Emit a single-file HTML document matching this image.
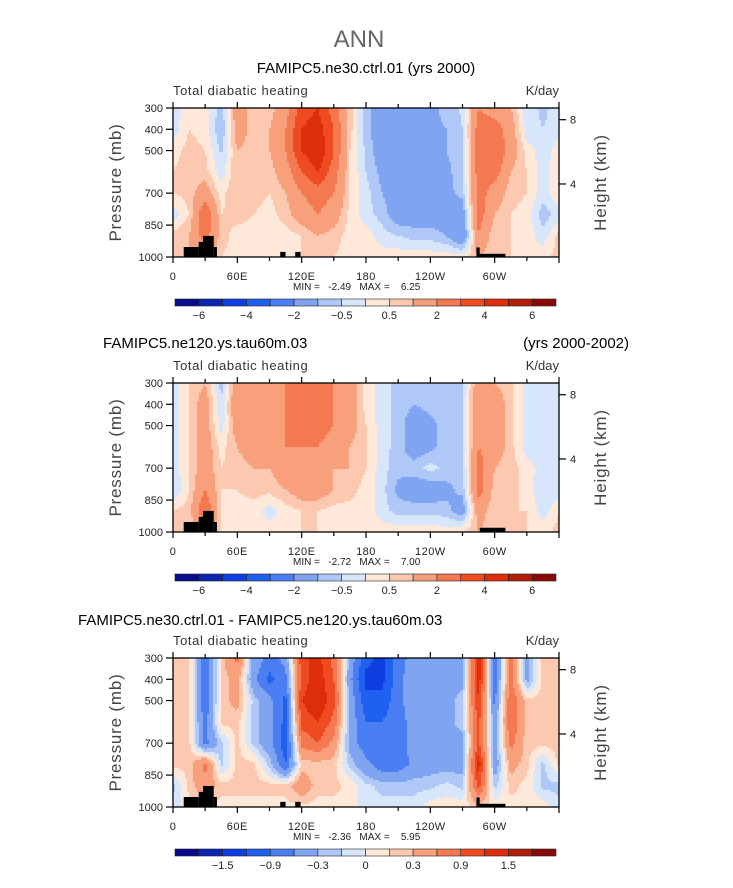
<!DOCTYPE html>
<html><head><meta charset="utf-8">
<style>
html,body{margin:0;padding:0;background:#fff;}
svg{display:block;font-family:"Liberation Sans",sans-serif;}
</style></head>
<body>
<svg id="fig" width="733" height="888" viewBox="0 0 733 888" xmlns="http://www.w3.org/2000/svg">
<text x="359" y="47" font-size="24" fill="#666" text-anchor="middle">ANN</text>
</svg>
<script>
// ---------------- data ----------------
const levels = [300,400,500,600,700,800,900,1000];
const lons = [0,15,30,45,60,75,90,105,120,135,150,165,180,195,210,225,240,255,270,285,300,315,330,345,360];
const lonTickLabels = ["0","60E","120E","180","120W","60W"];
const lonTickValues = [0,60,120,180,240,300];
const presTicks = [300,400,500,700,850,1000];
const heightTicks = ["8","4"];
const heightTickPres = [355,657];
const boundsAbs = [-6,-5,-4,-3,-2,-1,-0.5,0,0.5,1,2,3,4,5,6];
const boundsDiff = [-1.8,-1.5,-1.2,-0.9,-0.6,-0.3,-0.15,0,0.15,0.3,0.6,0.9,1.2,1.5,1.8];
const labelsAbs = ["-6","-4","-2","-0.5","0.5","2","4","6"];
const labelsDiff = ["-1.5","-0.9","-0.3","0","0.3","0.9","1.5"];
const colors = ["#0a0a8c","#0a26b0","#0f3ee0","#2060f0","#4a7ef2","#7fa4f2","#b0c8f8","#d8e6fc","#fde8da","#fcc8b0","#f8a07c","#f47850","#f04a20","#dc2e08","#b01c0a","#8a0a0a"];

const field1 = [
[-0.3,0.3,0.3,-0.8,1.5,0.7,0.7,1.5,3.5,4,2.5,0.7,-0.8,-1.5,-1.5,-1.5,-1.2,-0.8,-0.4,2,1.5,1,-0.3,-0.6,-0.3],
[-0.3,0.5,0.3,-1,1.5,0.7,1,2,4,4.5,3,0.7,-0.8,-1.5,-1.5,-1.5,-1.2,-1,-0.5,2.5,2.5,1.5,-0.3,-0.5,-0.3],
[0.3,0.7,0.5,-0.6,1,0.7,1,2,4,5,3,0.5,-0.6,-1.5,-1.5,-1.5,-1.5,-1,-0.6,2.5,3,1.5,0.3,-0.3,0.3],
[0.5,0.7,0.7,-0.3,1,1,0.7,1.5,3,4,2.5,0.5,-0.5,-1.2,-1.5,-1.5,-1.5,-1.2,-0.6,2.5,2.5,1,0.5,-0.3,0.5],
[0.5,0.7,1.5,0.3,1,0.7,0.5,1,2,2.5,2,0.5,-0.3,-1,-1.5,-1.5,-1.5,-1.2,-0.8,2.5,1.5,0.7,0.5,-0.3,0.5],
[-0.3,0.5,3,0.5,0.7,0.5,0.3,0.7,1.5,2,1.5,0.3,-0.3,-0.7,-1.5,-1.5,-1.5,-1.5,-1.5,2.5,1,0.5,0.3,-0.8,-0.3],
[0.7,1,2.5,0.7,0.3,0.3,0.3,0.3,0.5,1,0.7,0.3,0.3,-0.3,-0.5,-0.7,-0.7,-1,-2,2,0.5,0.5,0.3,-0.3,0.7],
[0.7,1,1,0.5,0.3,0.3,0.3,0.3,0.5,0.5,0.5,0.3,0.3,0.3,0.3,0.3,0.3,0.3,0.3,1,0.5,0.5,0.3,0.3,0.7]
];
const field2 = [
[-0.3,0.5,1,-0.7,1.5,1.5,1.5,2,2.5,2.5,2,1.5,0.3,-0.3,-0.7,-0.7,-0.7,-0.5,-0.5,1.5,1,0.7,-0.3,-0.3,-0.3],
[-0.3,0.5,1.5,-0.5,2,1.5,1.5,2,2.5,3,2,1.5,0.3,-0.3,-0.7,-1,-0.8,-0.7,-0.5,2,1.5,0.7,-0.3,-0.3,-0.3],
[-0.3,0.5,1.5,-0.3,1.5,1.5,1.5,2,2.5,2.5,2,1.5,0.5,-0.3,-0.7,-1.5,-1.2,-0.7,-0.5,2,1.5,0.7,-0.3,-0.3,-0.3],
[-0.3,0.5,1.5,0.3,1,1.5,1.5,2,2,2,1.5,1,0.5,-0.3,-0.7,-1.5,-1.2,-0.7,-0.5,2,1.5,0.7,-0.3,-0.3,-0.3],
[-0.3,0.5,1.5,0.5,0.7,1,1,1.5,1.5,1.5,1,1,0.5,-0.3,-0.8,-0.7,-0.3,-0.7,-0.7,2.5,1,0.7,0.3,-0.3,-0.3],
[-0.5,0.5,2,0.5,0.5,0.7,0.7,1,1.5,1.5,1,0.7,0.3,-0.3,-1.2,-1.5,-1.5,-1.2,-0.8,2.5,0.7,0.7,0.3,-0.5,-0.5],
[0.5,0.7,3,0.5,0.3,0.3,-0.3,0.3,0.5,0.5,0.3,0.3,0.3,-0.3,-0.7,-0.7,-0.7,-0.8,-1.5,1.5,0.5,0.5,0.5,-0.3,0.5],
[0.7,0.7,1,0.5,0.3,0.3,0.3,0.3,0.5,0.5,0.3,0.3,0.3,0.3,0.3,0.3,0.3,0.3,0.5,1,0.5,0.5,0.5,0.3,0.7]
];
const field3 = [
[0.2,0.2,-0.9,0.2,0.7,-0.4,-0.7,-0.5,1.1,1.3,0.8,-0.4,-1.1,-1.3,-0.7,-0.5,-0.4,-0.4,-0.4,1.4,-0.8,0.7,-0.4,0.2,0.2],
[0.2,0.2,-0.9,0.2,0.4,-0.5,-1.0,-0.7,1.0,1.4,0.9,-0.5,-1.3,-1.3,-0.7,-0.4,-0.4,-0.4,-0.4,1.4,-0.8,0.7,-0.4,0.2,0.2],
[0.2,0.2,-0.9,0.2,0.4,-0.2,-0.5,-1.0,1.2,1.5,1.0,-0.4,-1.1,-1.1,-0.7,-0.4,-0.4,-0.4,-0.2,1.2,-0.7,0.9,0.2,0.2,0.2],
[0.2,0.2,-0.7,0.2,0.2,-0.2,-0.5,-1.0,1.0,1.2,0.8,-0.4,-0.9,-0.9,-0.7,-0.5,-0.4,-0.4,-0.2,1.0,-0.5,0.9,0.2,0.2,0.2],
[0.2,0.2,-0.7,-0.2,0.2,-0.2,-0.5,-1.1,0.7,0.9,0.5,-0.4,-0.8,-0.8,-0.7,-0.5,-0.4,-0.4,-0.4,1.0,-0.5,0.7,0.2,0.2,0.2],
[0.2,0.2,0.7,-0.2,0.2,0.2,-0.2,-0.9,0.2,0.2,0.2,-0.2,-0.5,-0.8,-0.8,-0.5,-0.4,-0.4,-0.4,1.4,-0.5,0.4,0.2,-0.2,0.2],
[-0.2,0.2,0.5,0.2,0.2,0.2,0.2,0.2,0.5,0.2,0.2,0.1,-0.1,-0.2,-0.2,-0.2,-0.2,-0.1,-0.2,1.0,-0.2,0.2,0.1,-0.2,-0.2],
[-0.1,0.1,0.1,0.1,0.1,0.1,0.1,0.1,0.1,0.1,0.1,0.1,-0.1,-0.1,-0.1,-0.1,0.1,0.1,0.1,0.2,0.1,0.1,0.1,0.1,-0.1]
];
// topography blocks: [lonStart, lonEnd, topPressure]
const topoA = [[10,24,953],[24,28,929],[28,38,901],[38,41,953],[100,105,976],[114,119,976],[283,286,955],[283,310,985]];
const topoB = [[10,24,953],[24,28,929],[28,38,901],[38,41,953],[286,310,980]];
const minMax1 = ["-2.49","6.25"];
const minMax2 = ["-2.72","7.00"];
const minMax3 = ["-2.36","5.95"];

// ---------------- drawing ----------------
const NS = "http://www.w3.org/2000/svg";
const svg = document.getElementById('fig');
const PX0 = 173, PX1 = 559, PH = 149;
function el(tag, attrs, parent){const e=document.createElementNS(NS,tag);for(const k in attrs)e.setAttribute(k,attrs[k]);(parent||svg).appendChild(e);return e;}
function xScale(lon){return PX0 + (lon/360)*(PX1-PX0);}
function yScale(p, top){return top + (p-300)/700*PH;}
function sample(field, lon, p){
  let fi = lon/15; let i0 = Math.min(Math.floor(fi), lons.length-2); let tx = fi - i0;
  let j0 = 0; while(j0 < levels.length-2 && p > levels[j0+1]) j0++;
  let ty = (p - levels[j0])/(levels[j0+1]-levels[j0]); ty=Math.max(0,Math.min(1,ty));
  const a=field[j0][i0], b=field[j0][i0+1], c=field[j0+1][i0], d=field[j0+1][i0+1];
  return (a*(1-tx)+b*tx)*(1-ty)+(c*(1-tx)+d*tx)*ty;
}
function bin(v, bounds){let k=0;while(k<bounds.length && v+1e-6>=bounds[k])k++;return k;}

function panel(cfg){
  const top = cfg.top;
  const g = el('g',{});
  
  
  cfg.titles.forEach(t=>{
    const tx = el('text',{x:t.x,y:t.y,'font-size':15,fill:'#000','text-anchor':t.anchor||'start'},g);
    tx.textContent = t.text;
    
    
  });
  const st = el('text',{x:PX0,y:top-13,'font-size':13,fill:'#333','letter-spacing':'0.6'},g);
  st.textContent = 'Total diabatic heating';
  
  
  const un = el('text',{x:PX1,y:top-13,'font-size':13,fill:'#333','text-anchor':'end'},g);
  un.textContent = 'K/day';
  
  
  const fg = el('g',{'shape-rendering':'crispEdges'},g);
  
  
  const dx = 2, dy = 2;
  for(let y=top; y<top+PH; y+=dy){
    const p = 300 + ((y+dy/2)-top)/PH*700;
    let runStart = PX0, runBin = -1;
    for(let x=PX0; x<=PX1; x+=dx){
      let b = -2;
      if(x < PX1){ const lon = ((x+dx/2)-PX0)/(PX1-PX0)*360; b = bin(sample(cfg.field, Math.min(lon,359.9), p), cfg.bounds); }
      if(b !== runBin){
        if(runBin >= 0){
          const r = el('rect',{x:runStart,y:y,width:Math.min(x,PX1)-runStart,height:Math.min(dy,top+PH-y),fill:colors[runBin]},fg);
          
          
        }
        runStart = x; runBin = b;
      }
    }
  }
  cfg.topo.forEach(t=>{
    const r = el('rect',{x:xScale(t[0]),y:yScale(t[2],top),width:xScale(t[1])-xScale(t[0]),height:yScale(1000,top)-yScale(t[2],top),fill:'#000'},g);
    
    
  });
  const fr = el('rect',{x:PX0,y:top,width:PX1-PX0,height:PH,fill:'none',stroke:'#000','stroke-width':1.3},g);
  
  
  for(let lon=0; lon<=360; lon+=30){
    const x = xScale(lon);
    const major = lon%60===0;
    el('line',{x1:x,x2:x,y1:top,y2:top-(major?6:4),stroke:'#000','stroke-width':1.2},g);
    el('line',{x1:x,x2:x,y1:top+PH,y2:top+PH+(major?6:4),stroke:'#000','stroke-width':1.2},g);
  }
  lonTickValues.forEach((v,i)=>{
    const t = el('text',{x:xScale(v),y:top+PH+23,'font-size':11,fill:'#222','text-anchor':'middle','letter-spacing':'0.5'},g);
    t.textContent = lonTickLabels[i];
    
    
  });
  presTicks.forEach(p=>{
    const y = yScale(p,top);
    el('line',{x1:PX0-7,x2:PX0,y1:y,y2:y,stroke:'#000','stroke-width':1.2},g);
    const t = el('text',{x:PX0-10,y:y+4,'font-size':11,fill:'#222','text-anchor':'end'},g);
    t.textContent = String(p);
    
    
  });
  heightTickPres.forEach((p,i)=>{
    const y = yScale(p,top);
    el('line',{x1:PX1,x2:PX1+7,y1:y,y2:y,stroke:'#000','stroke-width':1.2},g);
    const t = el('text',{x:PX1+11,y:y+4,'font-size':11,fill:'#222'},g);
    t.textContent = heightTicks[i];
    
    
  });
  const yl = el('text',{x:0,y:0,'font-size':17,fill:'#444','text-anchor':'middle','letter-spacing':'0.8',transform:`translate(121,${top+PH/2}) rotate(-90)`},g);
  yl.textContent = 'Pressure (mb)';
  
  
  const yr = el('text',{x:0,y:0,'font-size':17,fill:'#444','text-anchor':'middle','letter-spacing':'0.8',transform:`translate(606,${top+PH/2}) rotate(-90)`},g);
  yr.textContent = 'Height (km)';
  
  
  const mm = el('text',{x:293,y:top+PH+33,'font-size':10,fill:'#222','xml:space':'preserve'},g);
  mm.style.whiteSpace='pre';
  mm.textContent = 'MIN =   ' + cfg.mm[0] + '   MAX =    ' + cfg.mm[1];
  
  
  const cbY = top+PH+42, cbX0=175, cbX1=556, cbW=(cbX1-cbX0)/16;
  const cb = el('g',{},g);
  
  
  colors.forEach((c,i)=>{
    const r = el('rect',{x:cbX0+i*cbW,y:cbY,width:cbW,height:7,fill:c,stroke:'#222','stroke-width':0.6},cb);
    
    
  });
  const labIdx = cfg.labels.length===8 ? [1,3,5,7,9,11,13,15] : [2,4,6,8,10,12,14];
  cfg.labels.forEach((l,i)=>{
    const t = el('text',{x:cbX0+labIdx[i]*cbW,y:cbY+20,'font-size':11,fill:'#222','text-anchor':'middle'},cb);
    t.textContent = l.replace('-','\u2212');
    
    
  });
}

panel({name:'panel-ne30-ctrl',top:108,field:field1,bounds:boundsAbs,labels:labelsAbs,mm:minMax1,topo:topoA,
  titles:[{text:'FAMIPC5.ne30.ctrl.01 (yrs 2000)',x:366,y:73,anchor:'middle',dn:'panel-title'}]});
panel({name:'panel-ne120',top:383,field:field2,bounds:boundsAbs,labels:labelsAbs,mm:minMax2,topo:topoB,
  titles:[{text:'FAMIPC5.ne120.ys.tau60m.03',x:103,y:348,dn:'panel-title'},{text:'(yrs 2000-2002)',x:629,y:348,anchor:'end',dn:'panel-years'}]});
panel({name:'panel-difference',top:658,field:field3,bounds:boundsDiff,labels:labelsDiff,mm:minMax3,topo:topoA,
  titles:[{text:'FAMIPC5.ne30.ctrl.01 - FAMIPC5.ne120.ys.tau60m.03',x:78,y:625,dn:'panel-title'}]});
</script>
</body></html>
